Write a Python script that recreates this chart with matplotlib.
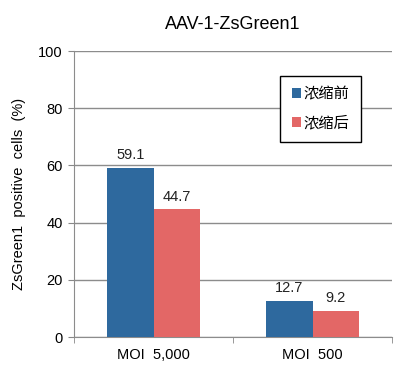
import matplotlib.pyplot as plt
import numpy as np

plt.rcParams['font.family'] = ['Liberation Sans', 'Noto Sans CJK SC', 'DejaVu Sans']

# data
groups = ["MOI  5,000", "MOI  500"]
before = [59.1, 12.7]
after = [44.7, 9.2]
series_names = ["浓缩前", "浓缩后"]
colors = ["#2E699E", "#E36766"]

fig = plt.figure(figsize=(3.98, 3.68), dpi=100)
ax = fig.add_axes([0.186, 0.0842, 0.799, 0.7772])

x = np.arange(len(groups))
w = 0.29
b1 = ax.bar(x - w / 2, before, w, color=colors[0], label=series_names[0], zorder=3)
b2 = ax.bar(x + w / 2, after, w, color=colors[1], label=series_names[1], zorder=3)

for bars, vals in [(b1, before), (b2, after)]:
    for r, v in zip(bars, vals):
        ax.annotate(f"{v:.1f}", (r.get_x() + r.get_width() / 2, v),
                    xytext=(0, 4), textcoords="offset points",
                    ha="center", va="bottom", fontsize=10.5, color="#222222")

ax.set_xlim(-0.5, 1.5)
ax.set_ylim(0, 100)
ax.set_yticks(range(0, 101, 20))
ax.set_xticks(x)
ax.set_xticklabels(groups)
ax.set_xticks([-0.5, 0.5, 1.5], minor=True)
ax.tick_params(axis="x", which="major", length=0, pad=8, labelsize=10.5)
ax.tick_params(axis="x", which="minor", length=4, color="#888888")
ax.tick_params(axis="y", length=4, color="#888888", labelsize=10.5, pad=4)

ax.grid(axis="y", color="#8c8c8c", linewidth=1, zorder=0)
for s in ["top", "right"]:
    ax.spines[s].set_visible(False)
for s in ["left", "bottom"]:
    ax.spines[s].set_color("#8c8c8c")

ax.set_ylabel("ZsGreen1  positive  cells  (%)", fontsize=10.5, labelpad=9)
ax.set_title("AAV-1-ZsGreen1", fontsize=13, pad=16)

leg = ax.legend(loc="upper left", bbox_to_anchor=(0.648, 0.913), fontsize=11,
                frameon=True, fancybox=False, edgecolor="black", framealpha=1,
                handlelength=0.65, handleheight=0.65, handletextpad=0.15,
                labelspacing=0.95, borderpad=0.75, borderaxespad=0)
leg.get_frame().set_linewidth(1)

fig.savefig("out.png", dpi=100)
